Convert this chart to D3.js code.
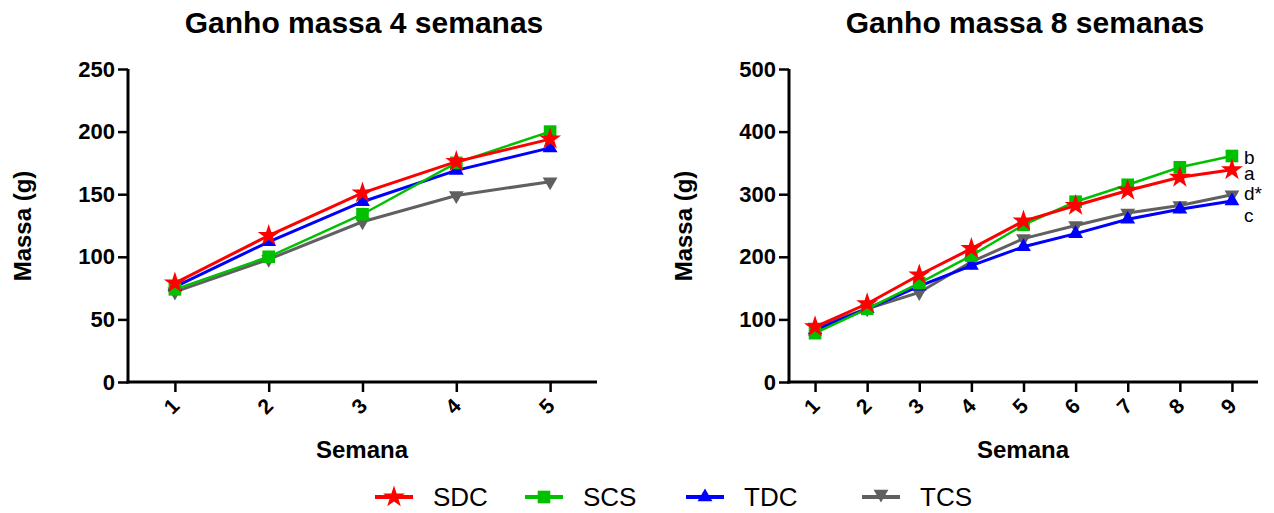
<!DOCTYPE html>
<html>
<head>
<meta charset="utf-8">
<script src="https://cdn.jsdelivr.net/npm/d3@7"></script>
<style>
  body { margin: 0; background: #fff; }
  svg text { font-family: "Liberation Sans", Arial, sans-serif; fill: #000; }
</style>
</head>
<body>
<div id="graphic"></div>
<script>
// data
const weeks4 = [1, 2, 3, 4, 5];
const weeks8 = [1, 2, 3, 4, 5, 6, 7, 8, 9];

const sdc4 = [79, 117, 151, 176, 194];
const scs4 = [74, 100, 134, 175, 200];
const tdc4 = [76, 112, 144, 169, 187];
const tcs4 = [72, 98, 128, 149, 160];

const sdc8 = [88, 125, 171, 213, 257, 282, 306, 327, 339];
const scs8 = [78, 117, 158, 202, 251, 288, 315, 343, 361];
const tdc8 = [83, 117, 153, 186, 216, 237, 260, 276, 289];
const tcs8 = [88, 117, 143, 192, 229, 250, 270, 282, 299];

const groupNames = ["SDC", "SCS", "TDC", "TCS"];
const groupLetters = ["a", "b", "c", "d*"];

const yTicks4 = [0, 50, 100, 150, 200, 250];
const yTicks8 = [0, 100, 200, 300, 400, 500];

const styles = {
  SDC: { color: "#ff0000", symbol: d3.symbolStar, size: 150, rot: 0, width: 3 },
  SCS: { color: "#00c000", symbol: d3.symbolSquare, size: 160, rot: 0, width: 2.5 },
  TDC: { color: "#0000ff", symbol: d3.symbolTriangle, size: 95, rot: 0, width: 3 },
  TCS: { color: "#606060", symbol: d3.symbolTriangle, size: 95, rot: 180, width: 3 }
};

const svg = d3.select("#graphic").append("svg")
  .attr("width", 1274)
  .attr("height", 513);

function drawPanel(opts){
  const x = d3.scaleLinear()
    .domain([0.5, opts.weeks.length + 0.5])
    .range([opts.left, opts.left + 469]);
  const y = d3.scaleLinear()
    .domain([0, opts.yMax])
    .range([382, 69]);

  const g = svg.append("g");

  // title
  g.append("text")
    .attr("x", opts.left + 236)
    .attr("y", 33)
    .attr("text-anchor", "middle")
    .attr("font-size", 30)
    .attr("font-weight", "bold")
    .text(opts.title);

  // y axis
  const yAxis = g.append("g")
    .attr("transform", `translate(${opts.left},0)`)
    .call(d3.axisLeft(y).tickValues(opts.yTicks).tickSize(10).tickPadding(3).tickSizeOuter(0));
  yAxis.select(".domain").attr("stroke-width", 3).attr("d", `M0,${y(opts.yMax)}V383.5`);
  yAxis.selectAll(".tick line").attr("stroke-width", 2.5);
  yAxis.selectAll(".tick text")
    .attr("font-size", 22)
    .attr("font-weight", "bold")
    .attr("font-family", "Liberation Sans, Arial, sans-serif");

  // x axis
  const xAxis = g.append("g")
    .attr("transform", "translate(0,382)")
    .call(d3.axisBottom(x).tickValues(opts.weeks).tickSize(10).tickSizeOuter(0).tickFormat(d3.format("d")));
  xAxis.select(".domain").attr("stroke-width", 3).attr("d", `M${opts.left - 1.5},0H${opts.left + 469}`);
  xAxis.selectAll(".tick line").attr("stroke-width", 2.5);
  xAxis.selectAll(".tick text")
    .attr("font-size", 21)
    .attr("font-weight", "bold")
    .attr("font-family", "Liberation Sans, Arial, sans-serif")
    .attr("text-anchor", "middle")
    .attr("dy", null)
    .attr("dominant-baseline", "central")
    .attr("y", 24)
    .attr("x", -4)
    .attr("transform", "rotate(-45,-4,24)");

  // axis labels
  g.append("text")
    .attr("transform", `translate(${opts.left - 97},226) rotate(-90)`)
    .attr("text-anchor", "middle")
    .attr("font-size", 24)
    .attr("font-weight", "bold")
    .text("Massa (g)");

  g.append("text")
    .attr("x", opts.left + 234)
    .attr("y", 458)
    .attr("text-anchor", "middle")
    .attr("font-size", 24)
    .attr("font-weight", "bold")
    .text("Semana");

  // series, bottom to top
  const order = ["TCS", "TDC", "SCS", "SDC"];
  order.forEach(function(name){
    const st = styles[name];
    const values = opts.series[name];
    const pts = values.map((v, i) => [opts.weeks[i], v]);
    const line = d3.line()
      .x(d => x(d[0]))
      .y(d => y(d[1]));
    g.append("path")
      .datum(pts)
      .attr("fill", "none")
      .attr("stroke", st.color)
      .attr("stroke-width", st.width)
      .attr("d", line);
    g.selectAll(null)
      .data(pts)
      .enter()
      .append("path")
      .attr("d", d3.symbol().type(st.symbol).size(st.size))
      .attr("fill", st.color)
      .attr("transform", d => `translate(${x(d[0])},${y(d[1])}) rotate(${st.rot})`);
  });

  return { x, y };
}

drawPanel({
  left: 128,
  title: "Ganho massa 4 semanas",
  weeks: weeks4,
  yMax: 250,
  yTicks: yTicks4,
  series: { SDC: sdc4, SCS: scs4, TDC: tdc4, TCS: tcs4 }
});

const right = drawPanel({
  left: 789,
  title: "Ganho massa 8 semanas",
  weeks: weeks8,
  yMax: 500,
  yTicks: yTicks8,
  series: { SDC: sdc8, SCS: scs8, TDC: tdc8, TCS: tcs8 }
});

// significance letters next to the last point
const lastVals = [sdc8[8], scs8[8], tdc8[8], tcs8[8]];
const letterNudge = [4, 1, 14, -1];
svg.append("g")
  .selectAll("text")
  .data(groupLetters)
  .enter()
  .append("text")
  .attr("x", right.x(9) + 12)
  .attr("y", (d, i) => right.y(lastVals[i]) + letterNudge[i])
  .attr("dominant-baseline", "central")
  .attr("font-size", 19)
  .text(d => d);

// legend
const legendX = [375, 525, 686, 862];
const legend = svg.append("g");
groupNames.forEach(function(name, i){
  const st = styles[name];
  const lx = legendX[i];
  legend.append("line")
    .attr("x1", lx).attr("x2", lx + 38)
    .attr("y1", 497).attr("y2", 497)
    .attr("stroke", st.color)
    .attr("stroke-width", 4);
  legend.append("path")
    .attr("d", d3.symbol().type(st.symbol).size(st.size))
    .attr("fill", st.color)
    .attr("transform", `translate(${lx + 19},${name === "TCS" ? 494 : 497}) rotate(${st.rot})`);
  legend.append("text")
    .attr("x", lx + 58)
    .attr("y", 497)
    .attr("dominant-baseline", "central")
    .attr("font-size", 26)
    .text(name);
});
</script>
</body>
</html>
